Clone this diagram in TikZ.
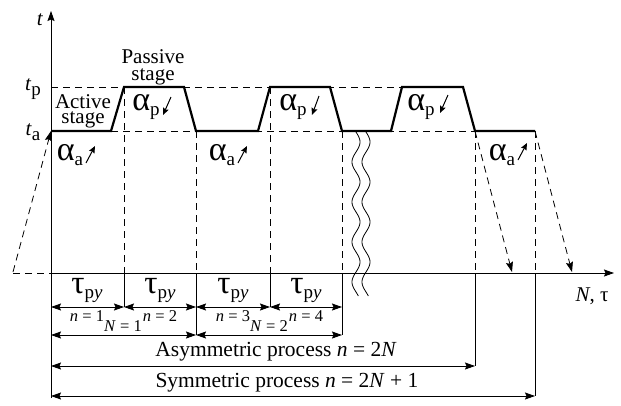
\documentclass[tikz,border=0pt]{standalone}
\usepackage{fontspec}
\setmainfont{Liberation Serif}
\usetikzlibrary{arrows.meta}
\newcommand{\galpha}[1]{{\fontsize{34}{35}\selectfont α}\raisebox{-5pt}{\fontsize{19}{20}\selectfont #1}}
\newcommand{\tpy}{{\fontsize{33}{34}\selectfont τ}\raisebox{-5pt}{\fontsize{19}{20}\selectfont p\textit{y}}}
\begin{document}
\begin{tikzpicture}[x=1pt,y=-1pt,
  thin line/.style={line width=0.8pt},
  dsh/.style={line width=0.8pt, dash pattern=on 7pt off 5pt},
  profile/.style={line width=2.2pt, line join=miter},
  tip/.style={-{Stealth[length=10pt,width=7pt,inset=1.5pt]}},
  dim/.style={line width=0.8pt,{Stealth[length=10pt,width=7pt,inset=1.5pt]}-{Stealth[length=10pt,width=7pt,inset=1.5pt]}},
  small tip/.style={line width=1pt,-{Stealth[length=7pt,width=6pt,inset=1pt]}},
  lbl/.style={font=\fontsize{21}{22}\selectfont, inner sep=0pt, align=center},
  bl/.style={font=\fontsize{21}{22}\selectfont, inner sep=0pt, anchor=base},
  sml/.style={font=\fontsize{16.5}{17}\selectfont, inner sep=0pt},
  wave/.style={line width=0.8pt}
]
\useasboundingbox (0,0) rectangle (621,405);
% axes
\coordinate (O) at (51,273);
\coordinate (Ytop) at (51,11);
\coordinate (Ybot) at (51,398);
\coordinate (Xend) at (614,273);
\coordinate (Xl) at (13,273);
\draw[thin line,tip] (Ybot) -- (Ytop);
\draw[thin line,tip] (O) -- (Xend);
\draw[dsh] (Xl) -- (O);
% profile points
\coordinate (a0) at (51,131);
\coordinate (a1) at (111,131);
\coordinate (p1) at (124,87);
\coordinate (p2) at (184,87);
\coordinate (a2) at (196,131);
\coordinate (a3) at (258,131);
\coordinate (p3) at (270,87);
\coordinate (p4) at (330,87);
\coordinate (a4) at (342,131);
\coordinate (a5) at (391,131);
\coordinate (p5) at (402,87);
\coordinate (p6) at (463,87);
\coordinate (a6) at (475,131);
\coordinate (a7) at (535,131);
\coordinate (tp0) at (51,87);
% reference dashed levels
\draw[dsh] (tp0) -- (p5);
\draw[dsh] (a1) -- (a6);
% vertical dashed and solid extensions
\foreach \n/\x/\y/\e in {p1/124/87/307, a2/196/131/335, p3/270/87/307, a4/342/131/335, a6/475/131/366, a7/535/131/396}{
  \coordinate (b\n) at (\x,273);
  \coordinate (e\n) at (\x,\e);
  \draw[dsh] (\n) -- (b\n);
  \draw[thin line] (b\n) -- (e\n);
}
% profile
\draw[profile] (a0) -- (a1) -- (p1) -- (p2) -- (a2) -- (a3) -- (p3) -- (p4) -- (a4) -- (a5) -- (p5) -- (p6) -- (a6) -- (a7);
% slanted dashed arrows
\coordinate (s0) at (13,272);
\coordinate (s1) at (512,272);
\coordinate (s2) at (572,272);
\draw[dsh,tip] (s0) -- (a0);
\draw[dsh,tip] (a6) -- (s1);
\draw[dsh,tip] (a7) -- (s2);
% wavy break lines
\draw[wave] plot[domain=0:164, samples=120, smooth] ({356+4*sin(\x*9)}, {132+\x});
\draw[wave] plot[domain=0:164, samples=120, smooth] ({366+4*sin(\x*9)}, {132+\x});
% dimension lines
\coordinate (d0) at (51,307); \coordinate (d1) at (124,307); \coordinate (d2) at (196,307);
\coordinate (d3) at (270,307); \coordinate (d4) at (342,307);
\draw[dim] (d0) -- (d1);
\draw[dim] (d1) -- (d2);
\draw[dim] (d2) -- (d3);
\draw[dim] (d3) -- (d4);
\coordinate (g0) at (51,335); \coordinate (g1) at (196,335); \coordinate (g2) at (342,335);
\draw[dim] (g0) -- (g1);
\draw[dim] (g1) -- (g2);
\coordinate (h0) at (51,366); \coordinate (h1) at (475,366);
\draw[dim] (h0) -- (h1);
\coordinate (k0) at (51,396); \coordinate (k1) at (535,396);
\draw[dim] (k0) -- (k1);
% labels
\node[lbl] (lt) at (40,20) {\textit{t}};
\node[lbl] (ltp) at (33,89) {\textit{t}\raisebox{-5pt}{\fontsize{19}{20}\selectfont p}};
\node[lbl] (lta) at (33,132) {\textit{t}\raisebox{-5pt}{\fontsize{19}{20}\selectfont a}};
\node[bl] (act1) at (83,108) {Active};
\node[bl] (act2) at (83,123) {stage};
\node[bl] (pas1) at (153,63) {Passive};
\node[bl] (pas2) at (153,80) {stage};
\node[lbl] (Nt) at (592,296) {\textit{N}, τ};
% alpha labels with arrows
\node[lbl] (aa1) at (70,155) {\galpha{a}};
\node[lbl] (aa2) at (222,155) {\galpha{a}};
\node[lbl] (aa3) at (502,155) {\galpha{a}};
\node[lbl] (ap1) at (146,107) {\galpha{p}};
\node[lbl] (ap2) at (293,107) {\galpha{p}};
\node[lbl] (ap3) at (421,107) {\galpha{p}};
\coordinate (ra1s) at (86,163); \coordinate (ra1e) at (95,146);
\coordinate (ra2s) at (238,163); \coordinate (ra2e) at (247,146);
\coordinate (ra3s) at (518,160); \coordinate (ra3e) at (527,143);
\draw[small tip] (ra1s) -- (ra1e);
\draw[small tip] (ra2s) -- (ra2e);
\draw[small tip] (ra3s) -- (ra3e);
\coordinate (rp1s) at (171,97); \coordinate (rp1e) at (163,115);
\coordinate (rp2s) at (319,96); \coordinate (rp2e) at (312,115);
\coordinate (rp3s) at (448,95); \coordinate (rp3e) at (440,113);
\draw[small tip] (rp1s) -- (rp1e);
\draw[small tip] (rp2s) -- (rp2e);
\draw[small tip] (rp3s) -- (rp3e);
% tau labels
\node[lbl] (t1) at (87,290) {\tpy};
\node[lbl] (t2) at (160,290) {\tpy};
\node[lbl] (t3) at (233,290) {\tpy};
\node[lbl] (t4) at (306,290) {\tpy};
\node[sml] (n1) at (87,316) {\textit{n} = 1};
\node[sml] (n2) at (160,316) {\textit{n} = 2};
\node[sml] (n3) at (233,316) {\textit{n} = 3};
\node[sml] (n4) at (306,316) {\textit{n} = 4};
\node[sml] (N1) at (123,326) {\textit{N} = 1};
\node[sml] (N2) at (269,326) {\textit{N} = 2};
\node[lbl,font=\fontsize{21.5}{22}\selectfont] (asym) at (276,352) {Asymmetric process \textit{n} = 2\textit{N}};
\node[lbl,font=\fontsize{21.5}{22}\selectfont] (sym) at (287,383) {Symmetric process \textit{n} = 2\textit{N} + 1};
\end{tikzpicture}
\end{document}
